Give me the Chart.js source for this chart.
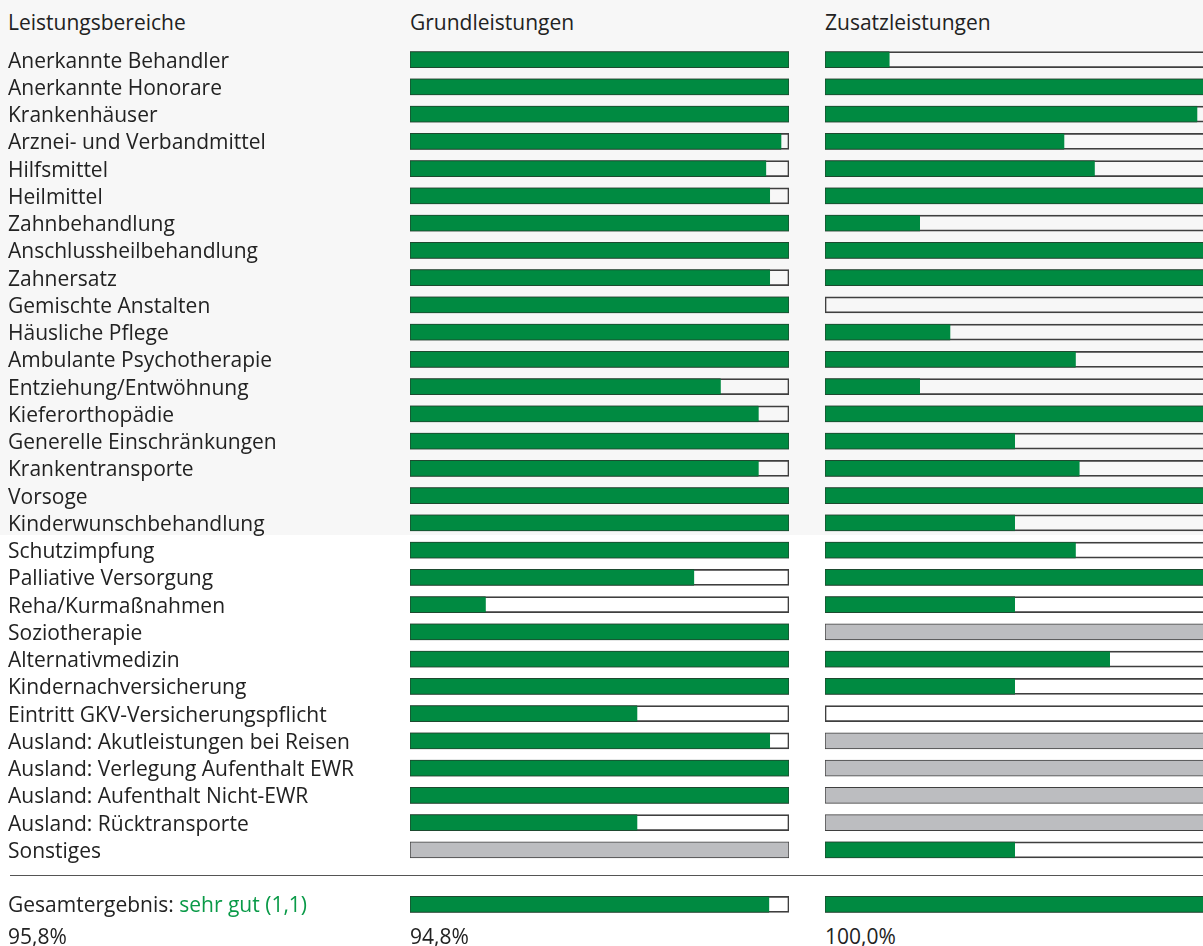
<!DOCTYPE html>
<html>
<head>
<meta charset="utf-8">
<script src="https://cdn.jsdelivr.net/npm/chart.js@4"></script>
<style>
  html, body { margin: 0; padding: 0; }
  body {
    width: 1203px; height: 946px; overflow: hidden; position: relative;
    background: linear-gradient(to bottom, #f7f7f7 0, #f7f7f7 535px, #ffffff 535px);
    font-family: "Open Sans", "Noto Sans", sans-serif; color: #222;
  }
  .txt { position: absolute; font-size: 21px; line-height: 24px; white-space: nowrap; }
  canvas { position: absolute; }
  #sep { position: absolute; left: 10px; top: 875px; width: 1193px; height: 0; border-top: 1.5px solid #555; }
  .green { color: #0a9a48; }
</style>
</head>
<body>
<div class="txt" id="h0" style="left:8px; top:10px;"></div>
<div class="txt" id="h1" style="left:410px; top:10px;"></div>
<div class="txt" id="h2" style="left:825px; top:10px;"></div>
<canvas id="grund" width="790" height="872" style="left:0; top:46px;"></canvas>
<canvas id="zusatz" width="380" height="872" style="left:825px; top:46px;"></canvas>
<div id="sep"></div>
<div class="txt" id="totalLabel" style="left:8px; top:892px;"></div>
<div class="txt" id="p0" style="left:8px; top:924px;"></div>
<div class="txt" id="p1" style="left:410px; top:924px;"></div>
<div class="txt" id="p2" style="left:825px; top:924px;"></div>
<script>
const headers = ['Leistungsbereiche', 'Grundleistungen', 'Zusatzleistungen'];

const categories = [
  'Anerkannte Behandler', 'Anerkannte Honorare', 'Krankenhäuser', 'Arznei- und Verbandmittel',
  'Hilfsmittel', 'Heilmittel', 'Zahnbehandlung', 'Anschlussheilbehandlung', 'Zahnersatz',
  'Gemischte Anstalten', 'Häusliche Pflege', 'Ambulante Psychotherapie', 'Entziehung/Entwöhnung',
  'Kieferorthopädie', 'Generelle Einschränkungen', 'Krankentransporte', 'Vorsoge',
  'Kinderwunschbehandlung', 'Schutzimpfung', 'Palliative Versorgung', 'Reha/Kurmaßnahmen',
  'Soziotherapie', 'Alternativmedizin', 'Kindernachversicherung', 'Eintritt GKV-Versicherungspflicht',
  'Ausland: Akutleistungen bei Reisen', 'Ausland: Verlegung Aufenthalt EWR',
  'Ausland: Aufenthalt Nicht-EWR', 'Ausland: Rücktransporte', 'Sonstiges'
];

// null = not rated (grey bar)
const grundValues = [
  100, 100, 100, 98, 94, 95, 100, 100, 95, 100,
  100, 100, 82, 92, 100, 92, 100, 100, 100, 75,
  20, 100, 100, 100, 60, 95, 100, 100, 60, null
];
const zusatzValues = [
  17, 100, 98, 63, 71, 100, 25, 100, 100, 0,
  33, 66, 25, 100, 50, 67, 100, 50, 66, 100,
  50, null, 75, 50, 0, null, null, null, null, 50
];

const totalLabel = 'Gesamtergebnis:';
const totalGrade = 'sehr gut (1,1)';
const totalOverall = 95.8;
const totalGrund = 94.8;
const totalZusatz = 100.0;

const GREEN = '#008a41';
const GREY = '#bcbdc0';

const fmt = (v) => v.toFixed(1).replace('.', ',') + '%';

document.getElementById('h0').textContent = headers[0];
document.getElementById('h1').textContent = headers[1];
document.getElementById('h2').textContent = headers[2];
document.getElementById('totalLabel').innerHTML = totalLabel + ' <span class="green">' + totalGrade + '</span>';
document.getElementById('p0').textContent = fmt(totalOverall);
document.getElementById('p1').textContent = fmt(totalGrund);
document.getElementById('p2').textContent = fmt(totalZusatz);

// rows: categories, a blank row for the separator, then the total row
const rowLabels = [...categories, '', ''];

function makeChart(id, values, total, showLabels) {
  const rated = [...values, undefined, total];
  const track = rated.map((v) => (v === undefined ? null : 100));
  const fill = rated.map((v) => (v === undefined || v === null ? null : v));

  return new Chart(document.getElementById(id), {
    type: 'bar',
    data: {
      labels: rowLabels,
      datasets: [
        {
          data: fill,
          order: 1,
          backgroundColor: GREEN,
          borderColor: '#1d4a2f',
          borderWidth: (ctx) => ({ top: 1, bottom: 1, left: 1, right: ctx.raw >= 100 ? 1 : 0 }),
          borderSkipped: false,
        },
        {
          data: track,
          order: 2,
          backgroundColor: (ctx) => (rated[ctx.dataIndex] === null ? GREY : 'rgba(255,255,255,0)'),
          borderColor: '#3f3f3f',
          borderWidth: 1,
          borderSkipped: false,
        },
      ],
    },
    options: {
      indexAxis: 'y',
      responsive: false,
      animation: false,
      events: [],
      datasets: { bar: { grouped: false, barThickness: 16 } },
      layout: { padding: showLabels ? { left: 8, right: 1 } : 0 },
      plugins: { legend: { display: false }, tooltip: { enabled: false }, title: { display: false } },
      scales: {
        x: { min: 0, max: 100, display: false },
        y: {
          display: showLabels,
          grid: { display: false },
          border: { display: false },
          ticks: {
            autoSkip: false,
            crossAlign: 'far',
            padding: 0,
            labelOffset: 2,
            color: '#222',
            font: { family: '"Open Sans", "Noto Sans", sans-serif', size: 21 },
          },
          afterFit: (scale) => {
            if (!showLabels) return;
            scale.width = 402;
            scale.paddingTop = 0;
            scale.paddingBottom = 0;
          },
        },
      },
    },
  });
}

makeChart('grund', grundValues, totalGrund, true);
makeChart('zusatz', zusatzValues, totalZusatz, false);
</script>
</body>
</html>
